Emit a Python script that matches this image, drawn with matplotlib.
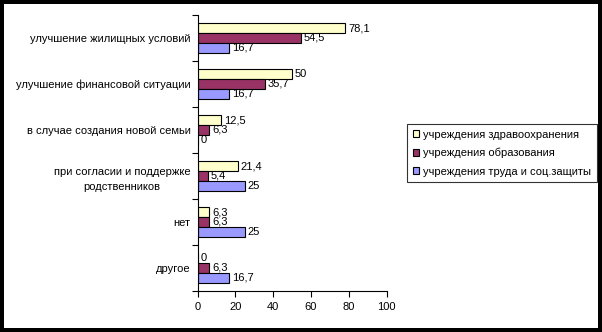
import matplotlib
matplotlib.use("Agg")
import matplotlib.pyplot as plt
from matplotlib.patches import Rectangle
import numpy as np

categories = ["улучшение жилищных условий", "улучшение финансовой ситуации",
              "в случае создания новой семьи", "при согласии и поддержке\nродственников",
              "нет", "другое"]
series_names = ["учреждения здравоохранения", "учреждения образования",
                "учреждения труда и соц.защиты"]
healthcare = [78.1, 50, 12.5, 21.4, 6.3, 0]
education = [54.5, 35.7, 6.3, 5.4, 6.3, 6.3]
labor = [16.7, 16.7, 0, 25, 25, 16.7]
colors = ["#FFFFCC", "#993366", "#9999FF"]
xticks = [0, 20, 40, 60, 80, 100]

plt.rcParams['font.family'] = ['Liberation Sans', 'DejaVu Sans']
FS = 8

W, H = 602, 332
fig = plt.figure(figsize=(W / 100, H / 100), dpi=100)
fig.patch.set_facecolor("black")
b = 4
fig.add_artist(Rectangle((b / W, b / H), (W - 2 * b) / W, (H - 2 * b) / H,
                         transform=fig.transFigure, facecolor="white",
                         edgecolor="none", zorder=0))

left, right, top, bottom = 197.5, 386.7, 15, 291
ax = fig.add_axes([left / W, 1 - bottom / H, (right - left) / W, (bottom - top) / H])
ax.set_facecolor("none")

y = np.arange(len(categories))
h = 0.217
for i, (vals, name, c) in enumerate(zip([healthcare, education, labor], series_names, colors)):
    bars = ax.barh(y + (i - 1) * h, vals, height=h, color=c, edgecolor="black",
                   linewidth=0.8, label=name)
    labels = [(str(int(v)) if float(v).is_integer() else str(v)).replace(".", ",") for v in vals]
    ax.bar_label(bars, labels=labels, padding=2, fontsize=FS)

ax.set_xlim(0, 100)
ax.set_ylim(len(categories) - 0.5, -0.5)
ax.set_xticks(xticks)
ax.set_xticklabels([str(t) for t in xticks], fontsize=FS)
ax.set_yticks(y)
ax.set_yticklabels(categories, fontsize=FS)
for lab in ax.get_yticklabels():
    lab.set_multialignment("center")
    lab.set_linespacing(1.6)
ax.set_yticks(np.arange(-0.5, len(categories), 1), minor=True)
ax.tick_params(axis="y", which="major", length=0, pad=5)
ax.tick_params(axis="y", which="minor", length=4, direction="out", width=0.8)
ax.tick_params(axis="x", which="major", length=4, direction="out", width=0.8, pad=4)
for s in ["top", "right"]:
    ax.spines[s].set_visible(False)
for s in ["left", "bottom"]:
    ax.spines[s].set_linewidth(0.8)
    ax.spines[s].set_color("black")

leg = fig.legend(loc="upper left", bbox_to_anchor=(407 / W, 1 - 124 / H), fontsize=FS,
                 frameon=True, fancybox=False, shadow=False, handlelength=0.6,
                 handleheight=0.6, handletextpad=0.35, borderpad=0.5, labelspacing=0.75,
                 borderaxespad=0)
leg.get_frame().set_edgecolor("black")
leg.get_frame().set_linewidth(0.8)

fig.savefig("out.png", dpi=100, facecolor=fig.get_facecolor())
